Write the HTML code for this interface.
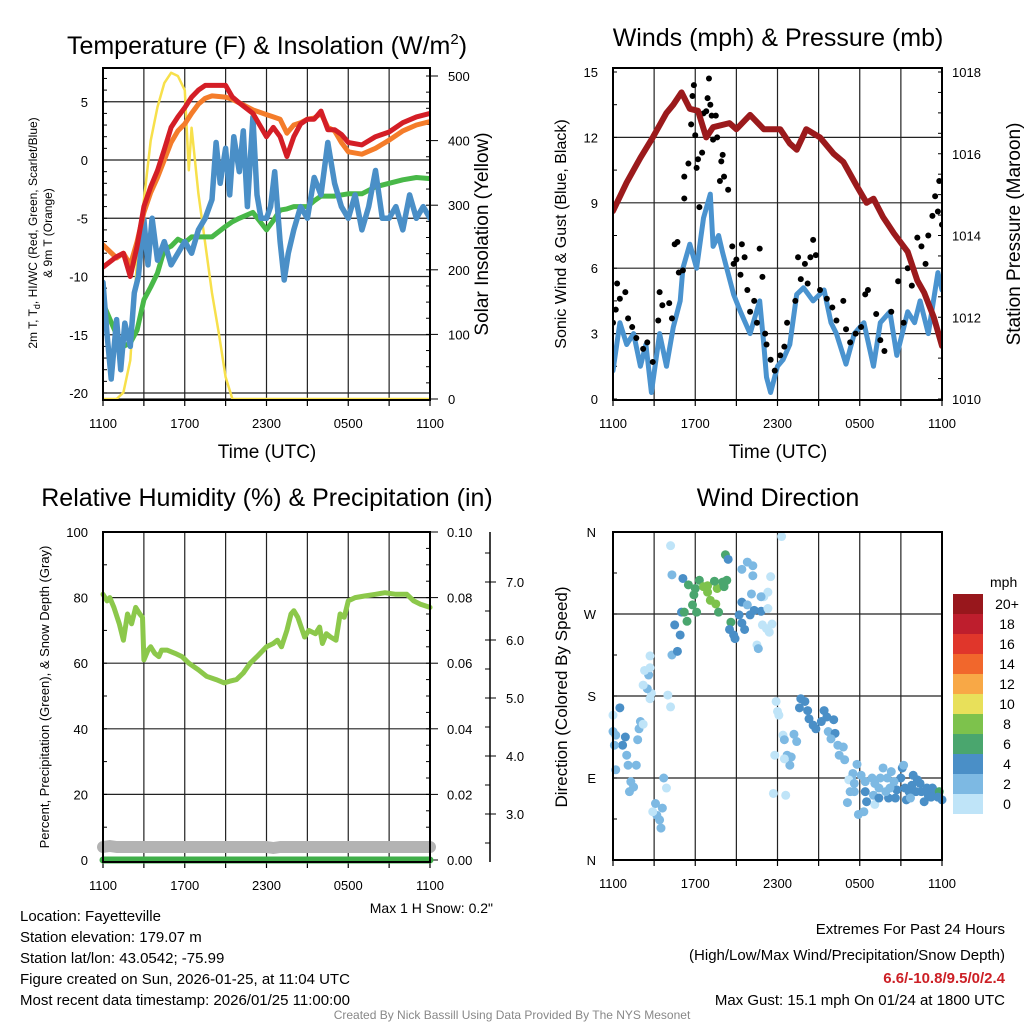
<!DOCTYPE html>
<html><head><meta charset="utf-8">
<style>
html,body{margin:0;padding:0;background:#fff;}
svg{display:block;font-family:"Liberation Sans",sans-serif;}
</style></head>
<body>
<svg id="chart" width="1024" height="1024" viewBox="0 0 1024 1024" xmlns="http://www.w3.org/2000/svg">
<rect x="0" y="0" width="1024" height="1024" fill="#fff"/>
<!-- titles -->
<text x="267" y="54" font-size="25" text-anchor="middle">Temperature (F) &amp; Insolation (W/m<tspan dy="-10" font-size="15">2</tspan><tspan dy="10">)</tspan></text>
<text x="778" y="46" font-size="25" text-anchor="middle">Winds (mph) &amp; Pressure (mb)</text>
<text x="267" y="506" font-size="25" text-anchor="middle">Relative Humidity (%) &amp; Precipitation (in)</text>
<text x="778" y="506" font-size="25" text-anchor="middle">Wind Direction</text>
<!-- axis titles -->
<text transform="translate(37,233) rotate(-90)" font-size="12" text-anchor="middle">2m T, T<tspan dy="3" font-size="9">d</tspan><tspan dy="-3">, HI/WC (Red, Green, Scarlet/Blue)</tspan></text>
<text transform="translate(52,233) rotate(-90)" font-size="12" text-anchor="middle">&amp; 9m T (Orange)</text>
<text transform="translate(488,234) rotate(-90)" font-size="19" text-anchor="middle">Solar Insolation (Yellow)</text>
<text x="267" y="458" font-size="19" text-anchor="middle">Time (UTC)</text>
<text transform="translate(566,234) rotate(-90)" font-size="16" text-anchor="middle">Sonic Wind &amp; Gust (Blue, Black)</text>
<text transform="translate(1020,234) rotate(-90)" font-size="19" text-anchor="middle">Station Pressure (Maroon)</text>
<text x="778" y="458" font-size="19" text-anchor="middle">Time (UTC)</text>
<text transform="translate(49,697) rotate(-90)" font-size="13" text-anchor="middle">Percent, Precipitation (Green), &amp; Snow Depth (Gray)</text>
<text transform="translate(567,697) rotate(-90)" font-size="17" text-anchor="middle">Direction (Colored By Speed)</text>
<text x="493" y="913" font-size="14" text-anchor="end">Max 1 H Snow: 0.2"</text>
<!-- info text -->
<g font-size="15">
<text x="20" y="921">Location: Fayetteville</text>
<text x="20" y="942">Station elevation: 179.07 m</text>
<text x="20" y="963">Station lat/lon: 43.0542; -75.99</text>
<text x="20" y="984">Figure created on Sun, 2026-01-25, at 11:04 UTC</text>
<text x="20" y="1005">Most recent data timestamp: 2026/01/25 11:00:00</text>
</g>
<g font-size="15" text-anchor="end">
<text x="1005" y="934">Extremes For Past 24 Hours</text>
<text x="1005" y="960">(High/Low/Max Wind/Precipitation/Snow Depth)</text>
<text x="1005" y="983" fill="#cc1f25" font-weight="bold">6.6/-10.8/9.5/0/2.4</text>
<text x="1005" y="1005">Max Gust: 15.1 mph On 01/24 at 1800 UTC</text>
</g>
<text x="512" y="1019" font-size="12" fill="#888" text-anchor="middle">Created By Nick Bassill Using Data Provided By The NYS Mesonet</text>
</svg>
<script>
// ---------- data ----------
const timeLabels = ["1100","1700","2300","0500","1100"];
// Temperature panel (hours since 1100 UTC)
const tHours = [0,1,1.5,2,2.5,3,3.5,4,4.5,5,5.5,6,6.5,7,7.5,8,9,9.5,10,11,12,12.5,13,13.5,14,14.5,15,15.5,16,16.5,17,17.5,18,19,20,21,22,23,24];
const tempRed = [-9.2,-8.3,-8,-10,-7.4,-4,-2.3,-0.9,0.9,2.8,3.7,4.5,5.4,6,6.4,6.4,6.4,5.4,4.9,4,2,2.8,2,0.3,2,3.1,3.5,3.5,4.2,2.6,2.6,2.2,1.5,1.3,2,2.4,3.2,3.7,4];
const tempOrange = [-7.3,-8.4,-8,-9,-7,-4.5,-2.8,-1.5,0,1.5,2.5,3.1,4,4.8,5.3,5.5,5.4,5.2,4.9,4.3,3.9,3.7,3.5,2.3,3,3.2,3.5,3.6,4,2.8,2.5,1.5,0.7,0.5,1,1.7,2.5,3,3.3];
const tempGreen = [-12.3,-15,-16,-15.7,-14.6,-12,-10.9,-9.7,-7.7,-7.4,-6.8,-7.1,-6.6,-6.6,-6.6,-6.6,-5.7,-5.3,-5,-4.5,-6,-5.2,-4.3,-4.2,-4,-4,-4,-3.5,-3.1,-3.1,-3.1,-3,-2.9,-2.9,-2.3,-2,-1.7,-1.5,-1.6];
const hiHours = [0,0.3,0.6,1,1.3,1.6,2,2.3,2.6,3,3.3,3.6,4,4.5,5,5.5,6,6.5,7,7.5,8,8.3,8.6,9,9.3,9.6,10,10.3,10.6,11,11.3,11.6,12,12.3,12.6,13,13.3,13.6,14,14.5,15,15.5,16,16.5,17,17.5,18,18.5,19,19.5,20,20.5,21,21.5,22,22.5,23,23.5,24];
const hiBlue = [-10.5,-15,-18.8,-13.7,-18,-14,-16,-11.4,-10,-5.1,-9,-5,-8.6,-7,-9,-8,-7,-8,-6,-5,-3.4,1.5,-2,1,-3,2,-1,2.5,-4,3.7,-3,-5,-5,-4,-1,-7,-10.3,-8,-6,-4,-5,-1.5,-3,1.5,-2,-4,-5,-3,-6,-4,-0.9,-5,-5,-4,-6,-3,-5,-4,-5];
const solHours = [0,1,1.5,2,2.5,3,3.5,4,4.5,5,5.5,6,6.3,6.5,7,7.5,8,8.5,9,9.5,24];
const solar = [0,0,10,60,215,308,400,452,489,505,500,478,354,420,318,241,164,102,34,0,0];
// Wind panel
const presHours = [0,1,2,2.9,3.9,4.4,5,5.6,6.2,6.8,7.3,8.5,9,10,11,12.2,12.9,13.4,14.1,15.1,16.1,16.8,17.8,18.5,19,19.7,20.5,21.5,22.2,22.7,23.4,24];
const pressure = [1014.6,1015.3,1015.9,1016.4,1017,1017.2,1017.5,1017.1,1017.05,1016.4,1016.65,1016.75,1016.6,1016.95,1016.6,1016.6,1016.25,1016.1,1016.6,1016.4,1016,1015.8,1015.2,1014.8,1014.9,1014.45,1014.05,1013.6,1012.9,1012.6,1012,1011.3];
const windHours = [0,0.5,1,1.5,2,2.4,2.8,3.4,3.9,4.4,4.9,5.1,5.6,6.1,6.6,7.1,7.3,7.7,8,8.8,9.3,10,10.7,11,11.2,11.5,12,12.4,12.9,13.4,13.9,14.6,15.4,15.9,16.3,17,17.6,18.3,19,19.5,20.2,20.7,21.5,22,22.4,23,23.7,24];
const windSpeed = [1.3,3.5,2.5,3,1.5,2.5,0.3,3,1.5,3.3,4.5,6,7.1,6,8.3,9.4,7,7.5,6.7,4.8,4,3,4.5,2.5,1,0.3,1.5,1.8,2.5,4.8,5.1,4.5,5,3.5,3,1.6,3,3.5,1.5,3.5,4,2,4,3.5,4.5,3,5.8,5];
const gustHours = [0,0.2,0.3,0.5,0.9,1.1,1.4,1.7,2.2,2.5,2.9,3.3,3.4,3.6,4.1,4.3,4.5,4.7,4.8,5.1,5.2,5.2,5.5,5.7,5.8,5.9,6,6.1,6.2,6.3,6.5,6.6,6.8,6.9,7,7.1,7.2,7.3,7.5,7.6,7.8,7.9,8,8.1,8.4,8.7,8.8,9,9.3,9.4,9.6,9.8,10,10.3,10.5,10.7,10.9,11.1,11.2,11.5,11.8,12.2,12.5,12.7,13.3,13.5,13.7,14,14.2,14.4,14.6,14.8,15.1,15.6,16,16.3,16.8,17,17.3,17.7,18.1,18.4,18.6,19.2,19.5,19.8,20.3,20.8,21.2,21.5,21.8,22.2,22.5,22.8,23,23.3,23.5,23.7,23.8,24];
const gustSpeed = [3.5,4.1,5.3,4.6,4.9,3.7,3.3,2.8,2.3,2.6,1.7,3.6,4.9,4.3,4.4,3.7,7.1,7.2,5.8,5.9,10.2,9.2,10.8,12.6,13.9,14.4,12.1,10.6,11,8.8,11.3,13.1,13.2,13.8,14.7,13.5,13,11.9,13,12,10,10.9,11.2,10.2,9.6,7,6.2,6.4,5.7,7.1,6.5,5,4,4.5,3.5,6.9,5.6,3,2.5,1.8,1.3,2,2.4,3.5,4.5,6.5,5.5,6.2,5.3,6.5,7.3,6.6,5,4.6,4.2,3.6,4.5,3.2,2.6,3,3.3,4.8,5,3.9,2.7,2.2,4,5.4,3.5,6,5.2,7.4,7,6.2,7.5,8.4,9.3,8.6,10,8];
// RH panel
const rhHours = [0,0.3,0.5,0.8,1.2,1.5,1.8,2.1,2.4,2.7,2.9,3,3.3,3.5,3.8,4.1,4.3,4.7,5.3,5.8,6.3,7,7.6,8.3,8.9,9.3,9.8,10.3,10.8,11.3,12,12.5,12.8,13.1,13.5,13.8,14,14.3,14.8,15.1,15.6,15.9,16.1,16.4,16.7,17.1,17.4,17.7,18,18.5,19.2,20,20.7,21.5,22.3,22.8,23.3,24];
const rh = [81,79,80,77,72,67,75,72,77,75,74,61,64,65,63,62,64,64,63,62,60,58,56,55,54,54.5,55,57,60,62,65,66,67,65,70,75,76,74,68,70,69,71,66,69,68,67,75,74,79,80,80.5,81,81.5,81,81,79,78,77];
const precipHours = [0,24];
const precip = [0,0];
const snowHours = [0,0.5,1,12,12.5,13,24];
const snowDepth = [2.45,2.5,2.45,2.45,2.4,2.45,2.45];
// Wind direction panel
const dirHours = [0,0.5,0,0.2,0.9,0.7,0.1,1,1.1,0.2,1.7,2,1.9,2.2,1.8,1.3,1.2,1.5,3.7,3.9,3.1,3.6,3.2,3.4,2.9,3.5,4,4.2,2.7,2.8,2.5,2.2,2.6,2.3,2.7,2.7,4.3,4.7,4.5,4.9,4.2,4.3,5.1,5.5,5.4,5,5.2,5.8,5.9,6.3,6,6.6,6.9,7.1,7.5,7.6,7.7,8.1,8,8.3,8.2,8.4,6.1,6.9,7.4,8.6,8.5,8.8,8.9,9.2,9.4,9.6,9.4,9.8,10,10.3,10.8,10.1,10.9,11.2,11.4,11.6,11.3,11,11.3,10.8,10.2,9.4,9.8,10.2,11.5,10.5,10.6,12.3,11.9,12,12.1,12.4,12.5,11.8,12.7,13,12.9,12.5,13.2,13.4,11.7,12.6,13.7,14,13.6,14.2,14.3,14.6,14.8,15.2,15.4,15.6,16.1,15.7,16.2,15.9,16.4,16.8,16.5,16.9,17.8,17.5,17.4,17.2,17.6,18.1,18.4,17.3,17.6,17.1,17.9,18.3,18.4,18.5,18.9,19.1,19.4,19,19.1,19.4,19.7,20,20.3,20.1,20.6,20.7,21.1,21.2,21,21.3,21.6,21.8,21.9,22.2,22.4,22.5,22.7,22.9,23,23.3,23.5,23.8,24,23.7,23.2,22.1,21.4,21.7,20.5,20.2,19.9,19.5];
const dirDeg = [159,167,141,137,135,126,126,115,104,99,104,152,144,149,132,86,75,80,90,79,62,57,49,44,53,35,181,168,177,183,188,192,203,208,211,224,225,229,258,247,345,313,309,302,262,272,272,280,291,307,298,300,294,285,281,298,272,300,305,307,335,330,272,301,306,261,253,247,243,269,260,253,283,280,269,274,273,292,258,254,250,259,276,289,294,289,312,319,327,323,311,236,232,355,174,163,159,137,132,115,115,113,104,111,138,130,73,71,177,174,167,164,155,148,144,152,164,157,154,141,139,133,126,124,115,110,105,95,90,88,84,93,86,75,75,63,50,53,75,64,90,84,79,71,61,68,101,90,97,68,68,77,101,104,90,79,75,82,93,88,84,75,64,79,71,79,75,75,66,69,69,75,66,68,86,79,75,90];
const dirSpeed = [1,4,2,2,4,4,2,2,2,2,2,2,2,0,2,2,2,2,2,0,2,2,2,2,0,2,0,0,0,0,2,0,2,0,0,0,2,4,4,4,0,2,4,6,6,4,6,6,6,6,6,8,8,8,8,8,6,6,6,6,6,4,6,8,6,6,4,4,4,4,4,4,4,2,4,4,4,2,0,0,0,0,0,0,0,2,2,2,2,2,0,0,2,0,0,0,0,0,2,0,2,2,2,0,2,2,0,0,4,4,4,4,4,4,4,4,4,4,4,2,4,2,2,2,2,2,2,2,2,0,2,2,2,2,2,2,2,2,4,4,2,2,2,2,0,4,2,2,2,4,4,4,4,2,4,4,4,4,4,4,4,4,4,4,4,4,4,6,4,4,4,4,4,2,2,2,2,2];
const speedLabels = ["0","2","4","6","8","10","12","14","16","18","20+"];
const speedColors = ["#bfe4f8","#7db9e3","#4a8fc7","#4aa66e","#7dc24c","#e8e05a","#f8a846","#f1672c","#e0362b","#be1e2d","#98171c"];

// ---------- helpers ----------
const NS = "http://www.w3.org/2000/svg";
const svg = document.getElementById("chart");
function mk(tag, attrs, parent){
  const e = document.createElementNS(NS, tag);
  for (const k in attrs) e.setAttribute(k, attrs[k]);
  (parent||svg).appendChild(e);
  return e;
}
function linScale(d0,d1,r0,r1){ return v => r0 + (v-d0)*(r1-r0)/(d1-d0); }
function pathD(xs, ys, fx, fy){
  let d = "";
  for (let i=0;i<xs.length;i++) d += (i?"L":"M") + fx(xs[i]).toFixed(1) + "," + fy(ys[i]).toFixed(1);
  return d;
}

function panel(name, x0, x1, y0, y1){
  const g = mk("g", {});
  
  
  const fx = linScale(0,24,x0,x1);
  for (let h=3; h<24; h+=3){
    const l = mk("line",{x1:fx(h),x2:fx(h),y1:y0,y2:y1,stroke:"#222","stroke-width":1.2}, g);
    
    
  }
  for (let i=0;i<timeLabels.length;i++){
    const h = i*6;
    const t = mk("text",{x:fx(h),y:y1+28,"font-size":13,"text-anchor":"middle"}, g);
    t.textContent = timeLabels[i];
    
    
  }
  for (let h=0; h<=24; h+=3){
    mk("line",{x1:fx(h),x2:fx(h),y1:y1,y2:y1+6,stroke:"#000","stroke-width":1.2}, g);
  }
  return {g, fx};
}
function hgrid(g, name, x0, x1, fy, vals){
  for (const v of vals){
    const l = mk("line",{x1:x0,x2:x1,y1:fy(v),y2:fy(v),stroke:"#222","stroke-width":1.2}, g);
    
    
  }
}
function leftLabels(g, name, x, fy, vals, labels){
  vals.forEach((v,i)=>{
    const t = mk("text",{x:x,y:fy(v)+5,"font-size":13,"text-anchor":"end"}, g);
    t.textContent = labels ? labels[i] : String(v);
    
    
  });
}
function rightLabels(g, name, x, fy, vals, labels){
  vals.forEach((v,i)=>{
    const t = mk("text",{x:x,y:fy(v)+5,"font-size":13,"text-anchor":"start"}, g);
    t.textContent = labels ? labels[i] : String(v);
    
    
  });
}
function ticks(g, x, fy, vals, len){
  for (const v of vals) mk("line",{x1:x,x2:x+len,y1:fy(v),y2:fy(v),stroke:"#000","stroke-width":1}, g);
}
function frame(g, name, x0,x1,y0,y1){
  const r = mk("rect",{x:x0,y:y0,width:x1-x0,height:y1-y0,fill:"none",stroke:"#000","stroke-width":2}, g);
  
  
}
function line(g, name, xs, ys, fx, fy, color, w){
  const p = mk("path",{d:pathD(xs,ys,fx,fy),fill:"none",stroke:color,"stroke-width":w,"stroke-linejoin":"round","stroke-linecap":"round"}, g);
  
  
  return p;
}
function range(a,b,s){ const r=[]; for(let v=a; v<=b+1e-9; v+=s) r.push(+v.toFixed(4)); return r; }

// ---------- Panel 1: temperature ----------
(function(){
  const X0=103,X1=430,Y0=68,Y1=400;
  const {g, fx} = panel("temp", X0,X1,Y0,Y1);
  const fy = linScale(0,-20,160,393);
  const fs = linScale(0,500,399,76);
  hgrid(g,"temp",X0,X1,fy,[-20,-15,-10,-5,0,5]);
  hgrid(g,"solar",X0,X1,fs,[0]);
  leftLabels(g,"temp",X0-15,fy,[-20,-15,-10,-5,0,5]);
  rightLabels(g,"solar",X1+18,fs,[0,100,200,300,400,500]);
  ticks(g,X0,fy,range(-20,7,1),4);
  ticks(g,X1,fs,range(0,500,25),-4);
  ticks(g,X1,fs,range(0,500,100),8);
  const clip = mk("clipPath",{id:"c1"}); mk("rect",{x:X0,y:Y0,width:X1-X0,height:Y1-Y0},clip);
  const d = mk("g",{"clip-path":"url(#c1)"}, g);
  line(d,"solar-insolation-line",solHours,solar,fx,fs,"#f7e04b",2.5);
  line(d,"dewpoint-line",tHours,tempGreen,fx,fy,"#48b848",5);
  line(d,"heat-index-windchill-line",hiHours,hiBlue,fx,fy,"#4a8fc7",5.5);
  line(d,"temp-9m-line",tHours,tempOrange,fx,fy,"#f47c2a",5);
  line(d,"temp-2m-line",tHours,tempRed,fx,fy,"#d41e26",5);
  frame(g,"temp",X0,X1,Y0,Y1);
})();

// ---------- Panel 2: wind ----------
(function(){
  const X0=613,X1=942,Y0=68,Y1=400;
  const {g, fx} = panel("wind", X0,X1,Y0,Y1);
  const fy = linScale(0,15,399,72);
  const fp = linScale(1010,1018,399,72);
  hgrid(g,"wind",X0,X1,fy,[3,6,9,12]);
  leftLabels(g,"wind",X0-15,fy,[0,3,6,9,12,15]);
  rightLabels(g,"pressure",X1+10,fp,[1010,1012,1014,1016,1018]);
  ticks(g,X0,fy,range(0,15,1.5),4);
  ticks(g,X1,fp,range(1010,1018,0.5),-4);
  const clip = mk("clipPath",{id:"c2"}); mk("rect",{x:X0,y:Y0,width:X1-X0,height:Y1-Y0},clip);
  const d = mk("g",{"clip-path":"url(#c2)"}, g);
  line(d,"sonic-wind-line",windHours,windSpeed,fx,fy,"#4a93cf",5);
  for (let i=0;i<gustHours.length;i++){
    const c = mk("circle",{cx:fx(gustHours[i]),cy:fy(gustSpeed[i]),r:3,fill:"#000"}, d);
    
    
  }
  line(d,"station-pressure-line",presHours,pressure,fx,fp,"#9b1a1c",6);
  frame(g,"wind",X0,X1,Y0,Y1);
})();

// ---------- Panel 3: RH ----------
(function(){
  const X0=103,X1=430,Y0=532,Y1=862;
  const {g, fx} = panel("rh", X0,X1,Y0,Y1);
  const fy = linScale(0,100,860,532);
  const fpr = linScale(0,0.1,860,532);
  const fsn = linScale(3,7,814,582);
  hgrid(g,"rh",X0,X1,fy,[20,40,60,80]);
  leftLabels(g,"rh",X0-15,fy,[0,20,40,60,80,100]);
  rightLabels(g,"precip",X1+17,fpr,[0,0.02,0.04,0.06,0.08,0.1],["0.00","0.02","0.04","0.06","0.08","0.10"]);
  ticks(g,X0,fy,range(0,100,10),4);
  ticks(g,X1,fpr,range(0,0.1,0.005),-4);
  ticks(g,X1,fpr,range(0,0.1,0.02),8);
  const ax = mk("line",{x1:490,x2:490,y1:532,y2:862,stroke:"#000","stroke-width":1.5}, g);
  
  
  ticks(g,490,fsn,range(2.5,7.5,0.5),-5);
  ticks(g,490,fsn,range(3,7,1),6);
  rightLabels(g,"snow-depth",506,fsn,[3,4,5,6,7],["3.0","4.0","5.0","6.0","7.0"]);
  const clip = mk("clipPath",{id:"c3"}); mk("rect",{x:X0-8,y:Y0,width:X1-X0+16,height:Y1-Y0+8},clip);
  const d = mk("g",{"clip-path":"url(#c3)"}, g);
  line(d,"relative-humidity-line",rhHours,rh,fx,fy,"#8cc84b",5);
  line(d,"snow-depth-line",snowHours,snowDepth,fx,v=>847+(2.45-v)*20,"#b3b3b3",12);
  line(d,"precipitation-line",precipHours,precip,fx,fpr,"#3fae49",7);
  frame(g,"rh",X0,X1,Y0,Y1);
})();

// ---------- Panel 4: wind direction ----------
(function(){
  const X0=613,X1=942,Y0=532,Y1=860;
  const {g, fx} = panel("wdir", X0,X1,Y0,Y1);
  const fy = linScale(0,360,860,532);
  hgrid(g,"wdir",X0,X1,fy,[90,180,270]);
  leftLabels(g,"wdir",X0-17,fy,[0,90,180,270,360],["N","E","S","W","N"]);
  ticks(g,X0,fy,range(0,360,45),4);
  for (let i=0;i<dirHours.length;i++){
    const bin = Math.min(10, Math.floor(dirSpeed[i]/2));
    const c = mk("circle",{cx:fx(dirHours[i]),cy:fy(dirDeg[i]),r:4.5,fill:speedColors[bin]}, g);
    
    
  }
  frame(g,"wdir",X0,X1,Y0,Y1);
  const cb = mk("g",{});
  
  
  const unit = mk("text",{x:990,y:587,"font-size":14}, cb);
  unit.textContent = "mph";
  for (let i=0;i<speedLabels.length;i++){
    const k = speedLabels.length-1-i;
    const y = 594 + i*20;
    const r = mk("rect",{x:953,y:y,width:30,height:20,fill:speedColors[k]}, cb);
    
    
    const t = mk("text",{x:1007,y:y+15,"font-size":14,"text-anchor":"middle"}, cb);
    t.textContent = speedLabels[k];
    
    
  }
})();
</script>
</body></html>
